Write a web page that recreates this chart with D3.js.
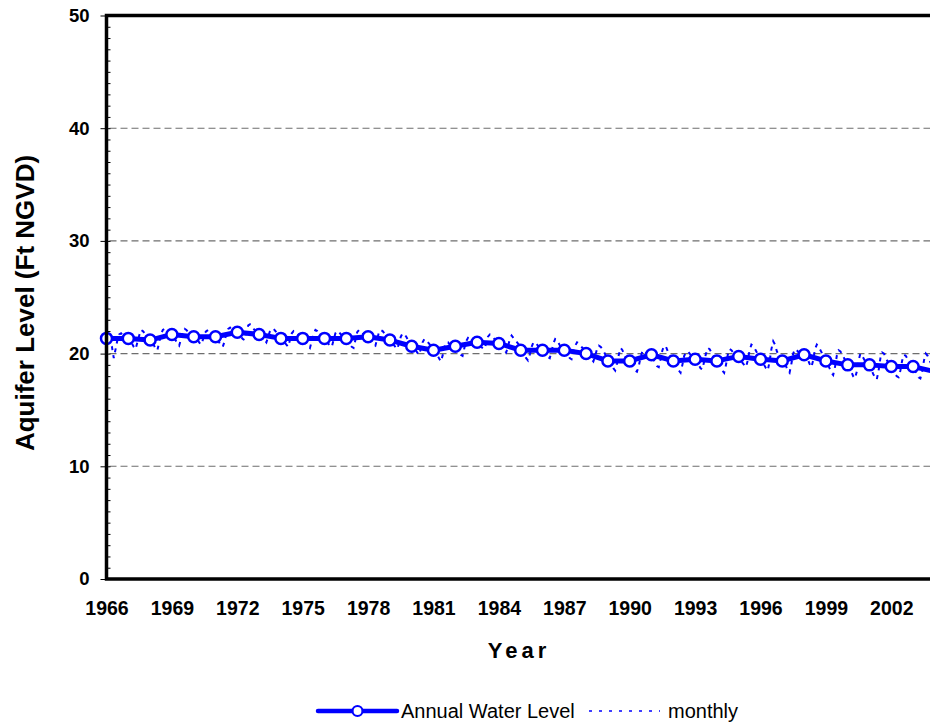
<!DOCTYPE html>
<html>
<head>
<meta charset="utf-8">
<script src="https://cdn.jsdelivr.net/npm/d3@7/dist/d3.min.js"></script>
<style>
  html, body { margin: 0; padding: 0; background: #fff; }
  svg { display: block; }
  text { font-family: Arial, "Liberation Sans", sans-serif; }
</style>
</head>
<body>
<svg id="chart" width="930" height="727"></svg>
<script>
// Annual mean aquifer level (ft NGVD)
const annualYears = d3.range(1966, 2005);
const annualLevels = [
  21.35, 21.35, 21.2, 21.7, 21.5, 21.5, 21.9, 21.7, 21.35, 21.35,
  21.35, 21.35, 21.5, 21.2, 20.65, 20.3, 20.65, 21.0, 20.9, 20.3,
  20.3, 20.3, 20.0, 19.35, 19.35, 19.9, 19.35, 19.5, 19.35, 19.75,
  19.5, 19.35, 19.9, 19.35, 19.0, 19.0, 18.85, 18.85, 18.4
];

// Monthly readings, one row per year (Jan..Dec), 1966-2003
const monthlyStartYear = 1966;
const monthlyLevels = [
  [21.3, 21.1, 20.9, 20.6, 19.6, 20.4, 21.2, 21.7, 21.8, 21.6, 21.5, 21.4],
  [21.3, 21.2, 20.9, 20.6, 20.4, 21.0, 21.6, 22.1, 22.0, 21.8, 21.7, 21.6],
  [21.4, 21.1, 20.8, 20.4, 20.3, 21.0, 21.7, 22.1, 22.2, 22.0, 21.9, 21.8],
  [21.6, 21.4, 21.2, 20.9, 20.7, 21.3, 22.0, 22.2, 22.1, 21.9, 21.8, 21.7],
  [21.6, 21.5, 21.3, 21.0, 20.8, 21.2, 21.8, 22.0, 22.1, 21.9, 21.8, 21.6],
  [21.4, 21.2, 21.0, 20.7, 20.6, 21.1, 21.8, 22.2, 22.3, 22.1, 22.0, 21.9],
  [21.8, 21.7, 21.5, 21.3, 21.2, 21.9, 22.5, 22.6, 22.4, 22.2, 22.0, 21.9],
  [21.8, 21.7, 21.5, 21.2, 21.0, 21.5, 22.0, 22.2, 22.2, 22.0, 21.8, 21.6],
  [21.4, 21.2, 21.0, 20.8, 20.6, 21.2, 21.8, 22.0, 21.9, 21.8, 21.6, 21.5],
  [21.3, 21.1, 20.9, 20.7, 20.5, 21.1, 21.8, 22.1, 22.0, 21.8, 21.6, 21.5],
  [21.3, 21.1, 20.9, 20.7, 20.6, 21.2, 21.8, 22.0, 21.9, 21.7, 21.6, 21.4],
  [21.3, 21.1, 20.8, 20.6, 20.5, 21.2, 21.9, 22.1, 22.0, 21.8, 21.7, 21.6],
  [21.5, 21.3, 21.0, 20.8, 20.7, 21.3, 21.9, 22.1, 22.0, 21.8, 21.6, 21.4],
  [21.2, 21.0, 20.8, 20.6, 20.4, 20.9, 21.5, 21.8, 21.7, 21.5, 21.2, 21.0],
  [20.8, 20.6, 20.4, 20.1, 19.9, 20.4, 21.0, 21.3, 21.2, 21.0, 20.8, 20.6],
  [20.4, 20.2, 19.9, 19.6, 19.3, 19.8, 20.6, 21.0, 21.0, 20.8, 20.6, 20.5],
  [20.4, 20.3, 20.1, 19.9, 19.8, 20.5, 21.1, 21.4, 21.3, 21.1, 21.0, 20.9],
  [20.9, 20.8, 20.6, 20.5, 20.4, 20.9, 21.5, 21.7, 21.6, 21.4, 21.2, 21.1],
  [21.0, 20.8, 20.5, 20.3, 20.1, 20.6, 21.3, 21.6, 21.4, 21.2, 21.0, 20.8],
  [20.5, 20.2, 19.9, 19.6, 19.4, 19.9, 20.6, 21.0, 21.0, 20.8, 20.6, 20.5],
  [20.4, 20.2, 20.0, 19.7, 19.6, 20.2, 20.9, 21.3, 21.2, 20.9, 20.6, 20.5],
  [20.3, 20.1, 19.9, 19.6, 19.5, 20.1, 20.7, 21.0, 20.9, 20.7, 20.5, 20.3],
  [20.2, 20.0, 19.7, 19.5, 19.3, 19.8, 20.4, 20.7, 20.6, 20.4, 20.1, 19.8],
  [19.6, 19.3, 19.0, 18.7, 18.5, 19.1, 19.9, 20.5, 20.3, 19.9, 19.6, 19.4],
  [19.2, 19.0, 18.7, 18.5, 18.4, 18.9, 19.7, 20.2, 20.3, 20.1, 19.9, 19.8],
  [19.7, 19.5, 19.2, 18.9, 18.8, 19.5, 20.3, 20.7, 20.6, 20.2, 19.9, 19.6],
  [19.3, 19.1, 18.8, 18.5, 18.3, 19.0, 19.8, 20.1, 20.2, 20.0, 19.8, 19.6],
  [19.5, 19.3, 19.0, 18.7, 18.6, 19.3, 20.0, 20.5, 20.4, 20.1, 19.8, 19.6],
  [19.4, 19.1, 18.8, 18.5, 18.3, 19.0, 19.9, 20.4, 20.3, 20.1, 19.9, 19.8],
  [19.7, 19.5, 19.2, 19.0, 18.8, 19.4, 20.3, 20.8, 20.7, 20.4, 20.1, 19.8],
  [19.6, 19.3, 19.0, 18.7, 18.5, 19.3, 20.4, 21.1, 20.8, 20.2, 19.9, 19.7],
  [19.5, 19.2, 18.9, 18.5, 18.3, 19.1, 20.0, 20.4, 20.3, 20.1, 19.9, 19.8],
  [19.9, 19.8, 19.5, 19.1, 18.8, 19.4, 20.4, 20.8, 20.6, 20.3, 20.0, 19.7],
  [19.4, 19.1, 18.7, 18.3, 18.1, 18.8, 19.8, 20.3, 20.2, 19.9, 19.6, 19.3],
  [19.1, 18.8, 18.4, 18.0, 17.8, 18.4, 19.4, 20.0, 19.8, 19.5, 19.2, 19.0],
  [18.9, 18.6, 18.2, 17.9, 17.7, 18.5, 19.6, 20.1, 20.0, 19.6, 19.3, 19.0],
  [18.8, 18.5, 18.2, 18.0, 17.9, 18.5, 19.4, 19.9, 19.8, 19.5, 19.2, 18.9],
  [18.8, 18.5, 18.2, 17.9, 17.8, 18.4, 19.4, 20.0, 19.8, 19.4, 19.1, 18.8]
];

const xTickYears = d3.range(1966, 2003, 3);
const yMajorTicks = [0, 10, 20, 30, 40, 50];
const yGridTicks = [10, 20, 30, 40];
const yMinorTicks = d3.range(0, 51, 1);

const BLUE = "#0000ff";
const svg = d3.select("#chart");

const x = d3.scaleLinear().domain([1966, 2005]).range([106.5, 956.7]);
const y = d3.scaleLinear().domain([0, 50]).range([579, 15.5]);

// dashed horizontal gridlines
svg.append("g").selectAll("line").data(yGridTicks).join("line")
  .attr("x1", x(1966) + 3).attr("x2", 930)
  .attr("y1", d => y(d)).attr("y2", d => y(d))
  .attr("stroke", "#6e6e6e").attr("stroke-width", 1.1)
  .attr("stroke-dasharray", "7,4");

// y axis: major ticks outside, minor ticks inside
const yMajor = svg.append("g").attr("transform", `translate(${x(1966)},0)`)
  .call(d3.axisLeft(y).tickValues(yMajorTicks).tickSize(6).tickPadding(10).tickFormat(d3.format("d")));
yMajor.select(".domain").remove();
yMajor.selectAll("line").attr("stroke", "#000").attr("stroke-width", 1);
yMajor.selectAll("text")
  .attr("font-size", 18.5).attr("font-weight", "bold").attr("fill", "#000")
  .attr("x", -17);

const yMinor = svg.append("g").attr("transform", `translate(${x(1966)},0)`)
  .call(d3.axisRight(y).tickValues(yMinorTicks).tickSize(4).tickFormat(""));
yMinor.select(".domain").remove();
yMinor.selectAll("line").attr("stroke", "#000").attr("stroke-width", 1);

// x axis labels
const xAxis = svg.append("g").attr("transform", `translate(0,${y(0)})`)
  .call(d3.axisBottom(x).tickValues(xTickYears).tickSize(0).tickFormat(d3.format("d")));
xAxis.select(".domain").remove();
xAxis.selectAll("text")
  .attr("font-size", 19.5).attr("font-weight", "bold").attr("fill", "#000")
  .attr("y", 36).attr("dy", null);

// monthly series (thin dashed)
const monthlyPoints = [];
monthlyLevels.forEach((row, i) => row.forEach((v, m) => {
  monthlyPoints.push([monthlyStartYear + i + m / 12, v]);
}));
svg.append("path").datum(monthlyPoints)
  .attr("d", d3.line().x(d => x(d[0])).y(d => y(d[1])))
  .attr("fill", "none").attr("stroke", BLUE)
  .attr("stroke-width", 2).attr("stroke-dasharray", "4,5");

// annual series (thick line with open circles)
const annual = annualYears.map((yr, i) => [yr, annualLevels[i]]);
svg.append("path").datum(annual)
  .attr("d", d3.line().x(d => x(d[0])).y(d => y(d[1])))
  .attr("fill", "none").attr("stroke", BLUE).attr("stroke-width", 5)
  .attr("stroke-linejoin", "round");
svg.append("g").selectAll("circle").data(annual.filter(d => d[0] <= 2003)).join("circle")
  .attr("cx", d => x(d[0])).attr("cy", d => y(d[1])).attr("r", 5.5)
  .attr("fill", "#fff").attr("stroke", BLUE).attr("stroke-width", 2.5);

// plot frame
svg.append("path")
  .attr("d", `M930,${y(50)} H${x(1966)} V${y(0)} H930`)
  .attr("fill", "none").attr("stroke", "#000").attr("stroke-width", 3.5)
  .attr("stroke-linecap", "square");

// axis titles
svg.append("text")
  .attr("transform", "translate(34,303) rotate(-90)")
  .attr("text-anchor", "middle")
  .attr("font-size", 26).attr("font-weight", "bold").attr("fill", "#000")
  .text("Aquifer Level (Ft NGVD)");

svg.append("text")
  .attr("x", 519).attr("y", 658)
  .attr("text-anchor", "middle")
  .attr("font-size", 22).attr("font-weight", "bold").attr("fill", "#000")
  .attr("letter-spacing", "4px")
  .text("Year");

// legend
const lg = svg.append("g");
const ly = 711;
lg.append("line").attr("x1", 318).attr("x2", 397).attr("y1", ly).attr("y2", ly)
  .attr("stroke", BLUE).attr("stroke-width", 4.5).attr("stroke-linecap", "round");
lg.append("circle").attr("cx", 357.5).attr("cy", ly).attr("r", 5)
  .attr("fill", "#fff").attr("stroke", BLUE).attr("stroke-width", 2.2);
lg.append("text").attr("x", 401).attr("y", 718)
  .attr("font-size", 20).attr("fill", "#000").text("Annual Water Level");
lg.append("line").attr("x1", 589).attr("x2", 660).attr("y1", ly).attr("y2", ly)
  .attr("stroke", BLUE).attr("stroke-width", 1.6).attr("stroke-dasharray", "3,7");
lg.append("text").attr("x", 668).attr("y", 718)
  .attr("font-size", 20).attr("fill", "#000").text("monthly");
</script>
</body>
</html>
